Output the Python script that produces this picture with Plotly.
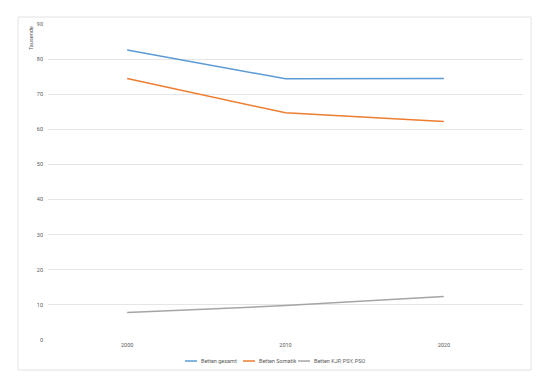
import plotly.graph_objects as go

years = ["2000", "2010", "2020"]
betten_gesamt = [82.6, 74.4, 74.5]
betten_somatik = [74.5, 64.7, 62.2]
betten_kjp = [7.8, 9.8, 12.4]
series_names = ["Betten gesamt", "Betten Somatik", "Betten KJP, PSY, PSO"]
colors = ["#5B9BD5", "#ED7D31", "#A5A5A5"]
y_ticks = list(range(0, 91, 10))

fig = go.Figure()
for name, vals, c in zip(series_names, [betten_gesamt, betten_somatik, betten_kjp], colors):
    fig.add_trace(go.Scatter(x=years, y=vals, mode="lines", name=name,
                             line=dict(color=c, width=1.5), showlegend=False))

font_fam = "Liberation Sans Narrow, Roboto, sans-serif"
txt_color = "#595959"
fig.update_layout(
    width=537, height=377,
    margin=dict(l=40, r=22, t=16, b=45),
    paper_bgcolor="white", plot_bgcolor="white",
    font=dict(family=font_fam, size=6, color=txt_color),
    showlegend=False,
    xaxis=dict(type="category", range=[-0.5, 2.5], showgrid=False, showline=False,
               zeroline=False, ticks="", tickfont=dict(size=5.5, color=txt_color)),
    yaxis=dict(range=[0, 90], tickvals=y_ticks, showgrid=True, gridcolor="#E5E5E5",
               gridwidth=1, zeroline=False, showline=False, ticks="",
               tickfont=dict(size=5.5, color=txt_color), ticklabelstandoff=4),
)
# outer chart border
fig.add_shape(type="rect", xref="paper", yref="paper",
              x0=-0.063, x1=1.017, y0=-0.095, y1=1.022,
              line=dict(color="#E3E3E3", width=1), fillcolor="rgba(0,0,0,0)", layer="below")
# axis title
fig.add_annotation(text="Tausende", xref="paper", yref="paper", x=-0.036, y=0.955,
                   textangle=-90, showarrow=False, xanchor="center", yanchor="middle",
                   font=dict(size=5.5, color=txt_color))
# compact legend (Excel style)
leg_y = -0.0665
leg_pos = [(0.2884, 0.3137, 0.3179), (0.4105, 0.4358, 0.44), (0.5263, 0.5516, 0.5558)]
for name, c, (lx0, lx1, tx) in zip(series_names, colors, leg_pos):
    fig.add_shape(type="line", xref="paper", yref="paper", x0=lx0, x1=lx1,
                  y0=leg_y, y1=leg_y, line=dict(color=c, width=1.5))
    fig.add_annotation(text=name, xref="paper", yref="paper", x=tx, y=leg_y,
                       xanchor="left", yanchor="middle", showarrow=False,
                       font=dict(size=5.5, color=txt_color))
fig.write_html("out.html")
